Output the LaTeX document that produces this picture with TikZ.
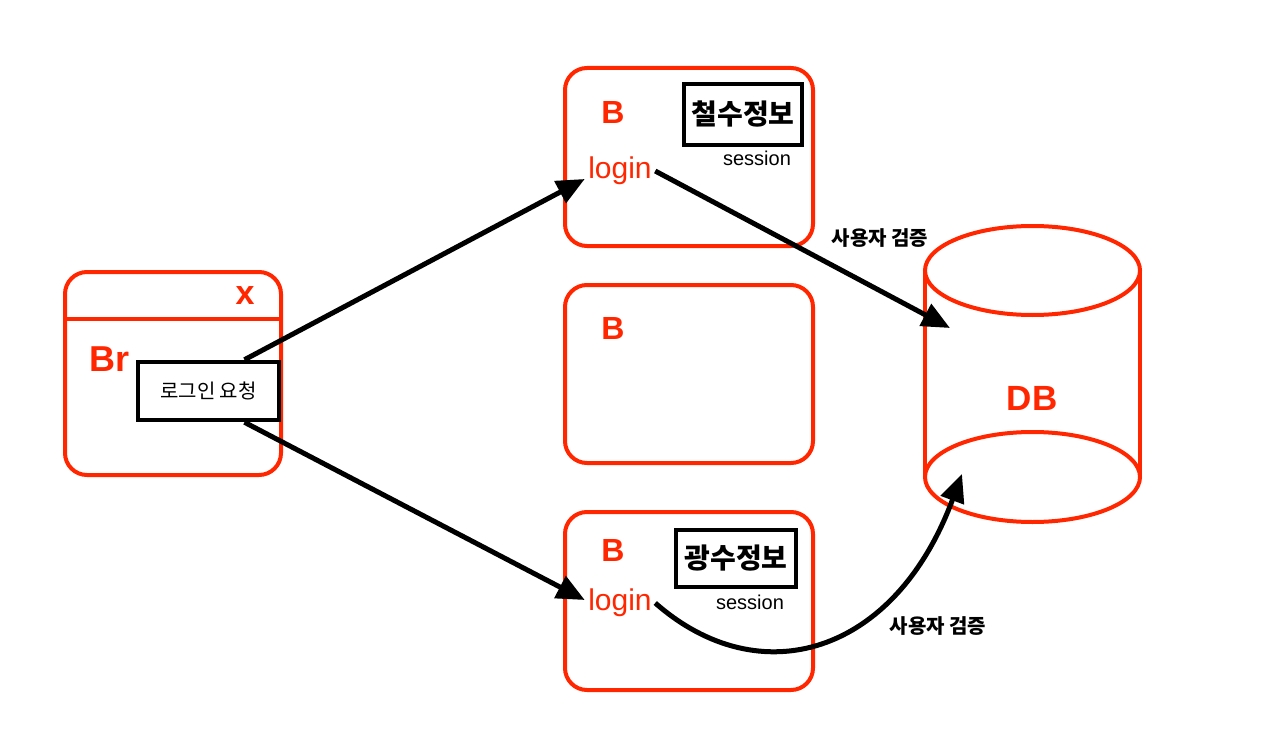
\documentclass[tikz,border=0pt]{standalone}
\usepackage{fontspec}
\setmainfont{Liberation Sans}
\newfontfamily\kr{Noto Sans CJK KR}
\usetikzlibrary{arrows.meta,positioning}
\definecolor{appred}{RGB}{255,38,0}

\begin{document}
\begin{tikzpicture}[x=1pt,y=-1pt,>={Triangle[length=28pt,width=24pt]}]
  \tikzstyle{redbox}=[draw=appred,line width=4pt,rounded corners=22pt,minimum width=248pt,minimum height=178pt]
  \tikzstyle{infobox}=[draw,line width=4.5pt,inner sep=0pt,align=center]
  \tikzstyle{bigred}=[text=appred,font=\bfseries\fontsize{32}{36}\selectfont]
  \tikzstyle{loginlbl}=[text=appred,font=\fontsize{30}{34}\selectfont]
  \tikzstyle{sess}=[font=\fontsize{20}{24}\selectfont]
  \tikzstyle{check}=[font=\kr\bfseries\fontsize{20}{24}\selectfont]
  \tikzstyle{arr}=[line width=5pt,->]
  \useasboundingbox (0,0) rectangle (1280,741);
  % browser window
  \node[redbox,minimum width=216pt,minimum height=203pt] (br) at (173,373.5) {};
  \draw[appred,line width=4pt] ([yshift=-49pt]br.north west) -- ([yshift=-49pt]br.north east);
  \node[bigred,font=\bfseries\fontsize{34}{38}\selectfont] (close) at (245,296) {x};
  \node[bigred,font=\bfseries\fontsize{36}{40}\selectfont] (brname) at (110,359) {Br};
  \node[infobox,minimum width=141pt,minimum height=58pt,font=\kr\fontsize{20}{24}\selectfont] (req) at (208.5,391) {로그인 요청};
  % servers
  \node[redbox] (b1) at (689,157) {};
  \node[bigred] (b1name) at (613,112) {B};
  \node[infobox,minimum width=118pt,minimum height=61pt,font=\kr\bfseries\fontsize{28}{32}\selectfont] (info1) at (743,114.5) {철수정보};
  \node[sess] (sess1) at (757,158) {session};
  \node[loginlbl] (login1) at (620,171) {login};
  \node[redbox] (b2) at (689,374) {};
  \node[bigred] (b2name) at (613,328) {B};
  \node[redbox] (b3) at (689,601) {};
  \node[bigred] (b3name) at (613,550) {B};
  \node[infobox,minimum width=120pt,minimum height=57pt,font=\kr\bfseries\fontsize{28}{32}\selectfont] (info3) at (736,558.5) {광수정보};
  \node[sess] (sess3) at (750,602) {session};
  \node[loginlbl] (login3) at (620,603) {login};
  % database
  \draw[appred,line width=4pt] (925,270) -- (925,477) (1140,270) -- (1140,477);
  \draw[appred,line width=4pt,fill=white] (1032.5,270.5) ellipse [x radius=107.5,y radius=44.5];
  \draw[appred,line width=4pt] (1032.5,477) ellipse [x radius=107.5,y radius=45];
  \node[bigred,font=\bfseries\fontsize{35}{40}\selectfont] (db) at (1032,398) {DB};
  \coordinate (dbin1) at (950,328);
  \coordinate (dbin2) at (962,474);
  % requests
  \draw[arr] (req.41) -- ([yshift=-8pt]login1.west);
  \draw[arr] (req.-41) -- ([yshift=3pt]login3.west);
  \draw[arr] (login1.east) -- (dbin1);
  \draw[arr] (login3.east) .. controls (760,695) and (895,655) .. (dbin2);
  \node[check] (chk1) at (880,238) {사용자 검증};
  \node[check] (chk3) at (938,626) {사용자 검증};
\end{tikzpicture}
\end{document}
